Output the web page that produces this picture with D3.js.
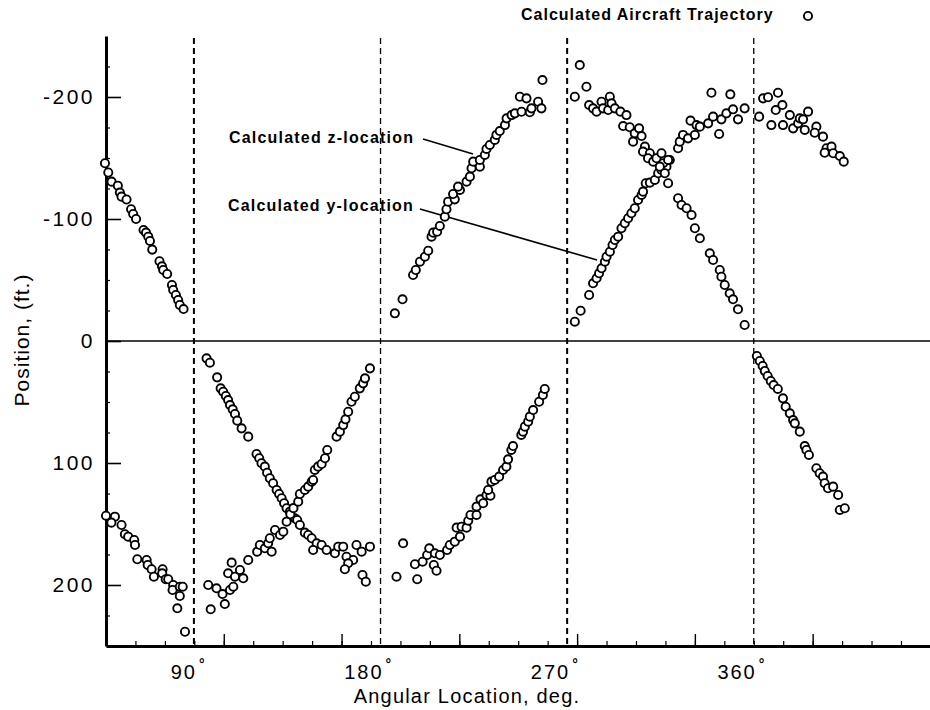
<!DOCTYPE html>
<html>
<head>
<meta charset="utf-8">
<script src="https://cdn.jsdelivr.net/npm/d3@7"></script>
<style>
  body { margin: 0; background: #fff; }
  svg { display: block; }
  text { font-family: "Liberation Sans", Arial, Helvetica, sans-serif; fill: #000; }
</style>
</head>
<body>
<svg width="930" height="710"></svg>
<script>
// [angular location (deg), position (ft.)]
const yLocation = [
  [47.1,-145.7],[48.7,-138.1],[50.3,-130.6],[53.3,-127.3],[54.3,-121.7],[55.1,-118.3],[57.5,-116.0],[59.7,-108.0],[60.7,-104.1],[62.1,-100.0],[65.7,-91.0],[66.9,-88.8],[68.0,-85.5],[68.8,-82.0],[69.9,-74.9],[73.4,-65.4],[74.6,-61.2],[75.2,-58.2],[77.1,-54.9],[79.4,-45.9],[80.0,-41.8],[81.3,-37.7],[82.4,-33.6],[83.2,-29.5],[85.0,-26.2],
  [96.1,14.2],[97.7,17.8],[101.2,29.8],[102.9,38.8],[104.1,41.6],[105.4,45.1],[106.5,48.4],[107.4,52.5],[108.7,56.0],[109.8,59.8],[110.9,65.3],[113.0,71.6],[116.2,78.4],[120.2,92.6],[121.5,96.1],[122.6,100.2],[124.2,103.0],[125.3,108.0],[126.6,112.5],[128.2,116.6],[129.9,122.1],[131.1,125.4],[132.3,128.9],[133.5,133.0],[134.7,137.1],[136.3,139.9],[138.7,145.3],[139.8,146.7],[141.1,150.8],[143.5,157.1],[145.1,159.0],[146.8,161.7],[149.2,165.8],[147.5,171.3],[151.6,167.2],[154.0,171.3],[158.0,174.0],[159.6,168.6],[162.0,168.6],[163.6,176.8],[166.8,179.5],[164.4,182.2],[162.8,187.1],[168.4,167.2],[170.9,172.7],[174.9,168.6],[171.3,191.8],[172.9,197.3],
  [187.7,193.2],[190.9,165.8],[196.6,183.0],[197.7,195.3],[200.3,180.9],[202.5,175.4],[203.5,169.9],[205.7,183.6],[207.0,188.3],[206.2,174.0],[208.6,175.4],[212.1,171.3],[213.4,167.2],[215.8,164.5],[218.3,160.4],[216.7,153.0],[219.1,152.2],[221.5,153.0],[222.3,147.3],[223.4,142.6],[226.3,142.6],[226.3,135.8],[228.2,129.8],[229.5,133.0],[231.1,126.2],[233.0,126.8],[231.9,122.1],[233.5,115.3],[235.1,113.9],[237.2,111.2],[239.1,105.7],[240.7,103.0],[241.5,97.0],[243.1,89.3],[243.9,86.1],[247.9,77.0],[248.7,74.3],[249.6,70.2],[251.2,66.1],[252.0,62.0],[253.6,56.6],[256.5,49.8],[258.3,44.3],[259.2,39.3],
  [273.7,-15.8],[276.5,-24.8],[280.6,-37.7],[282.5,-47.3],[284.2,-51.4],[285.4,-55.5],[286.6,-59.6],[288.2,-65.0],[289.0,-69.1],[290.6,-73.2],[291.9,-78.7],[293.0,-82.8],[294.6,-85.5],[296.2,-92.4],[297.8,-96.5],[299.4,-100.6],[301.0,-104.7],[302.6,-108.8],[304.2,-115.6],[305.9,-119.7],[306.6,-122.4],[307.9,-129.3],[309.9,-129.8],[312.3,-132.0],[313.9,-137.5],[315.5,-140.2],[317.9,-142.9],[319.5,-148.4],[323.5,-158.0],[324.3,-163.4],[325.9,-168.9],[328.3,-166.1],[331.6,-168.9],[329.5,-180.6],[332.4,-177.0],[334.0,-175.7],[338.0,-178.4],[340.4,-183.9],[343.3,-169.7],[344.4,-181.7],[346.8,-186.6],[350.0,-189.9],[352.4,-181.7],[355.6,-190.7],[339.6,-203.5],[348.7,-202.2],
  [362.6,-183.9],[364.5,-198.9],[366.9,-199.8],[371.7,-203.5],[370.6,-189.3],[373.8,-193.4],[368.5,-177.0],[374.1,-177.0],[377.4,-185.2],[379.0,-174.3],[381.4,-178.4],[382.2,-182.5],[386.2,-188.0],[383.8,-181.7],[384.6,-173.0],[390.2,-175.7],[389.4,-170.7],[393.4,-167.5],[395.1,-158.0],[394.2,-154.3],[397.5,-159.3],[398.3,-153.9],[401.5,-151.6],[403.4,-147.0]
];

const zLocation = [
  [47.6,143.2],[51.9,144.0],[50.2,148.9],[55.1,150.8],[56.7,158.4],[58.3,160.4],[61.2,163.1],[61.6,167.2],[62.7,178.9],[67.2,179.5],[67.7,183.6],[69.6,187.1],[70.7,193.2],[74.9,187.1],[74.7,190.4],[76.4,195.3],[77.6,195.3],[80.0,200.0],[79.7,204.1],[83.2,201.4],[84.6,201.4],[83.2,209.0],[82.0,219.1],[85.7,238.3],
  [98.1,219.9],[96.9,200.0],[100.9,202.7],[103.8,207.4],[104.9,215.6],[107.4,204.1],[109.0,201.4],[108.2,181.7],[106.5,190.4],[109.8,193.2],[112.2,187.7],[113.8,194.5],[116.2,179.5],[120.5,172.7],[121.8,167.2],[124.2,169.9],[125.8,165.8],[127.5,172.7],[126.6,161.7],[129.1,154.9],[131.5,159.0],[133.1,156.3],[134.7,148.1],[136.5,142.0],[138.0,137.0],[140.3,131.7],[141.1,125.4],[143.5,122.1],[145.1,119.4],[146.8,115.3],[147.5,113.9],[148.3,105.7],[149.9,103.0],[151.6,100.8],[153.2,96.1],[154.3,89.3],[158.8,78.4],[160.4,74.3],[162.0,68.9],[163.1,64.2],[164.4,58.0],[166.0,49.8],[167.6,45.7],[170.0,38.8],[171.6,34.7],[172.5,30.6],[174.9,22.4],
  [186.9,-22.7],[190.6,-34.2],[195.7,-54.1],[197.0,-58.2],[199.0,-65.0],[201.4,-69.1],[203.0,-74.0],[204.6,-85.5],[205.4,-88.8],[207.3,-89.6],[208.6,-94.3],[211.0,-101.9],[211.8,-108.0],[212.6,-114.2],[215.8,-116.1],[215.0,-120.5],[218.3,-123.8],[217.4,-126.5],[221.5,-130.6],[223.1,-134.7],[223.9,-141.6],[224.7,-147.0],[227.9,-142.9],[227.9,-148.4],[230.3,-152.5],[231.1,-157.4],[232.7,-160.7],[235.1,-164.8],[235.9,-168.9],[237.5,-172.1],[240.0,-177.0],[240.8,-182.5],[243.2,-185.2],[244.8,-186.6],[248.0,-187.9],[252.0,-187.5],[252.8,-190.7],[247.2,-200.2],[250.4,-198.9],[256.0,-196.1],[257.6,-190.7],[258.1,-213.9],
  [276.1,-226.2],[273.7,-200.2],[279.3,-208.4],[280.6,-193.4],[282.5,-190.7],[284.2,-188.0],[286.6,-196.1],[287.3,-190.7],[289.8,-189.3],[290.6,-200.2],[291.4,-194.8],[293.0,-190.7],[295.7,-188.0],[298.6,-185.2],[297.0,-176.2],[300.2,-175.2],[302.6,-170.2],[304.7,-174.3],[305.9,-168.0],[301.8,-163.4],[307.5,-159.3],[306.6,-155.2],[309.9,-153.9],[309.0,-149.8],[311.5,-147.0],[313.1,-149.8],[315.5,-153.9],[316.3,-145.7],[318.7,-148.4],[314.7,-142.9],[317.1,-137.5],[318.7,-129.3],[323.5,-117.0],[325.2,-111.5],[327.6,-108.8],[330.0,-103.3],[331.6,-92.4],[334.0,-84.2],[338.8,-71.9],[340.4,-66.4],[343.6,-58.2],[344.4,-52.7],[346.0,-45.9],[348.4,-39.1],[350.0,-34.2],[352.4,-26.0],[355.6,-13.1],
  [361.5,12.3],[362.9,16.4],[364.3,20.5],[365.3,24.6],[366.7,28.7],[368.2,32.8],[369.6,36.1],[371.6,39.3],[374.1,47.0],[375.4,53.9],[377.4,59.3],[379.0,64.8],[379.8,67.5],[382.2,74.3],[384.6,86.1],[385.4,89.3],[386.6,93.4],[390.2,104.3],[391.8,108.4],[393.4,111.2],[394.2,116.6],[395.8,120.7],[398.3,119.4],[400.7,126.2],[401.5,138.5],[403.9,137.1]
];

const quadrants = [90, 180, 270, 360];
const quadrantWidth = [2, 1.3, 2, 1.3];
const yTicks = [-200, -100, 0, 100, 200];

// annotation: label start, leader line start and end
const notes = [
  { text: "Calculated z-location", at: [106.9, -162], from: [200.5, -165.6], to: [224.6, -153.3] },
  { text: "Calculated y-location", at: [106.4, -106.5], from: [199.0, -108.2], to: [284.4, -66.4] }
];

const svg = d3.select("svg");
const x = d3.scaleLinear().domain([47.6, 445]).range([106, 930]);
const y = d3.scaleLinear().domain([-250, 250]).range([36, 646]);

// x ticks don't line up with the degree labels in the original scan
const xStep = 56.8;
const xMinor = d3.range(47.6, 445, xStep / 4);
const xMajor = d3.range(47.6, 445, xStep);

// dashed quadrant lines
svg.append("g").selectAll("line")
  .data(quadrants).enter()
  .append("line")
  .attr("x1", d => x(d)).attr("x2", d => x(d))
  .attr("y1", 38).attr("y2", y(250))
  .attr("stroke", "#000")
  .attr("stroke-width", (d, i) => quadrantWidth[i])
  .attr("stroke-dasharray", "6,4");

// zero line
svg.append("line")
  .attr("x1", x(47.6)).attr("x2", 930)
  .attr("y1", y(0)).attr("y2", y(0))
  .attr("stroke", "#000").attr("stroke-width", 1.6);

// x axis, ticks pointing up
svg.append("g")
  .attr("transform", `translate(0,${y(250)})`)
  .call(d3.axisBottom(x).tickValues(xMinor).tickSizeInner(-5).tickSizeOuter(0).tickFormat(""))
  .call(g => g.select(".domain").remove())
  .call(g => g.selectAll("line").attr("stroke-width", 1.2));
svg.append("g")
  .attr("transform", `translate(0,${y(250)})`)
  .call(d3.axisBottom(x).tickValues(xMajor).tickSizeInner(-12).tickSizeOuter(0).tickFormat(""))
  .call(g => g.select(".domain").attr("stroke-width", 3))
  .call(g => g.selectAll("line").attr("stroke-width", 1.4));

// y axis, ticks pointing right
svg.append("g")
  .attr("transform", `translate(${x(47.6)},0)`)
  .call(d3.axisLeft(y).tickValues(d3.range(-225, 250, 25).filter(v => v % 100 != 0)).tickSizeInner(-4).tickSizeOuter(0).tickFormat(""))
  .call(g => g.select(".domain").remove())
  .call(g => g.selectAll("line").attr("stroke-width", 1.2));
svg.append("g")
  .attr("transform", `translate(${x(47.6)},0)`)
  .call(d3.axisLeft(y).tickValues(yTicks).tickSizeInner(-15).tickSizeOuter(0).tickPadding(11).tickFormat(d => String(d)))
  .call(g => g.select(".domain").attr("stroke-width", 3))
  .call(g => g.selectAll("line").attr("stroke-width", 1.6))
  .call(g => g.selectAll("text")
    .attr("font-size", 21)
    .attr("letter-spacing", 2.5)
    .attr("font-family", "Liberation Sans, Arial, sans-serif"));

// x labels with raised degree sign
const xLabels = svg.append("g").attr("class", "xlabels");
quadrants.forEach(d => {
  xLabels.append("text")
    .attr("x", x(d) + 3)
    .attr("y", 679)
    .attr("text-anchor", "end")
    .attr("font-size", 20)
    .attr("letter-spacing", 2)
    .text(d);
  xLabels.append("text")
    .attr("x", x(d) + 5)
    .attr("y", 669)
    .attr("font-size", 14)
    .attr("font-weight", "bold")
    .text("°");
});

svg.append("text")
  .attr("x", 467).attr("y", 703)
  .attr("text-anchor", "middle")
  .attr("font-size", 20)
  .attr("letter-spacing", 1.2)
  .text("Angular Location, deg.");

svg.append("text")
  .attr("transform", "translate(29,340) rotate(-90)")
  .attr("text-anchor", "middle")
  .attr("font-size", 21)
  .attr("letter-spacing", 1)
  .text("Position, (ft.)");

// annotations
svg.append("g").selectAll("line")
  .data(notes).enter()
  .append("line")
  .attr("x1", d => x(d.from[0])).attr("y1", d => y(d.from[1]))
  .attr("x2", d => x(d.to[0])).attr("y2", d => y(d.to[1]))
  .attr("stroke", "#000").attr("stroke-width", 1.6);
svg.append("g").selectAll("text")
  .data(notes).enter()
  .append("text")
  .attr("x", d => x(d.at[0])).attr("y", d => y(d.at[1]))
  .attr("font-size", 16)
  .attr("font-weight", "bold")
  .attr("letter-spacing", 1.2)
  .text(d => d.text);

// points
const marks = svg.append("g")
  .attr("fill", "#fff")
  .attr("stroke", "#000")
  .attr("stroke-width", 1.9);
marks.selectAll(".y").data(yLocation).enter()
  .append("circle").attr("class", "y")
  .attr("cx", d => x(d[0])).attr("cy", d => y(d[1])).attr("r", 4.1);
marks.selectAll(".z").data(zLocation).enter()
  .append("circle").attr("class", "z")
  .attr("cx", d => x(d[0])).attr("cy", d => y(d[1])).attr("r", 4.1);

// legend
svg.append("text")
  .attr("x", 521).attr("y", 20)
  .attr("font-size", 16)
  .attr("font-weight", "bold")
  .attr("letter-spacing", 1)
  .text("Calculated Aircraft Trajectory");
svg.append("circle")
  .attr("cx", 808).attr("cy", 16).attr("r", 4.1)
  .attr("fill", "#fff").attr("stroke", "#000").attr("stroke-width", 1.9);
</script>
</body>
</html>
